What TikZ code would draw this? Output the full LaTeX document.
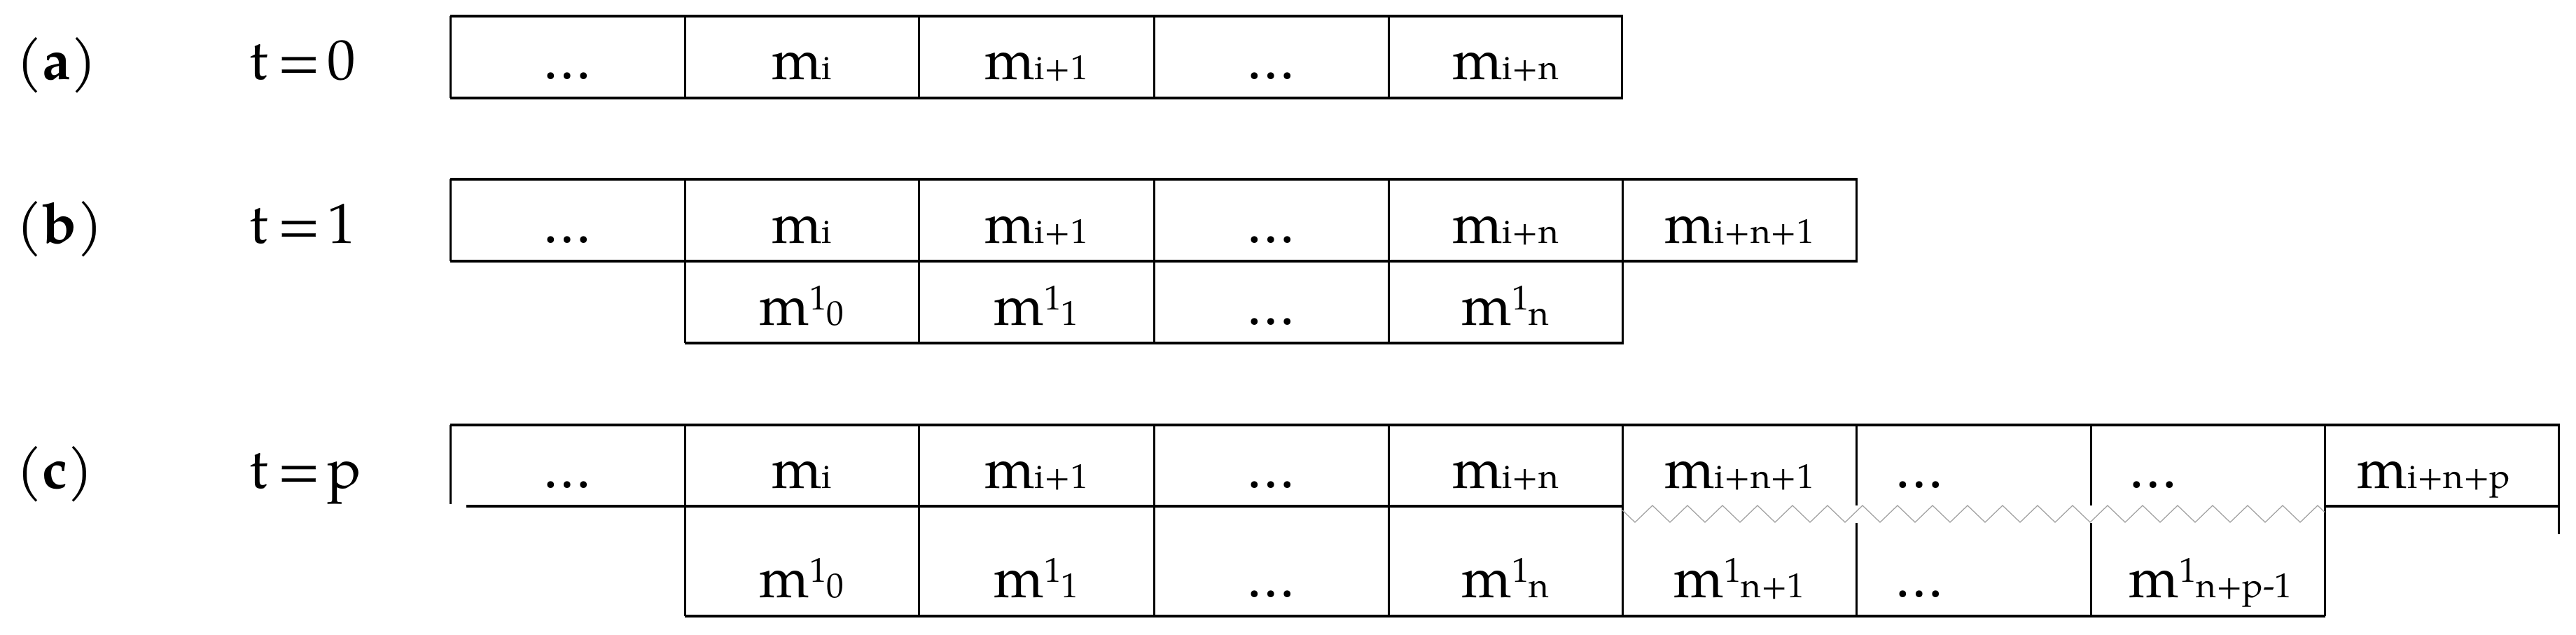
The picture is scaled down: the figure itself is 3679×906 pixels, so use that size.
\documentclass[tikz,border=0pt]{standalone}
\usepackage{fontspec}
\setmainfont{TeX Gyre Pagella}
\newcommand{\lo}[1]{{\fontsize{14pt}{14pt}\selectfont #1}}
\newcommand{\hi}[1]{\raisebox{0.26em}{\fontsize{14pt}{14pt}\selectfont #1}}
\newcommand{\teq}[1]{t\hspace{0.17em}=\hspace{0.12em}#1}
\tikzset{
  hl/.style={line width=1.3pt},
  vl/.style={line width=0.85pt},
  zig/.style={line width=0.35pt, draw={rgb,255:red,160;green,160;blue,160}},
  txt/.style={anchor=base, inner sep=0pt, font=\fontsize{23pt}{23pt}\selectfont},
  ltxt/.style={txt, anchor=base west}
}
\begin{document}
\begin{tikzpicture}[x=0.01cm,y=-0.01cm]
\useasboundingbox (0,0) rectangle (3679,906);
% ---------- row (a)
\node[ltxt] (la) at (23,113) {(\textbf{a})};
\node[ltxt] (ta) at (356,113) {\teq{0}};
\draw[hl] (643,23) -- (2318,23);
\draw[hl] (643,140) -- (2318,140);
\foreach \x in {643,978,1312,1648,1983,2316} \draw[vl] (\x,23) -- (\x,140);
\node[txt] (a1) at (810,113) {…};
\node[txt] (a2) at (1145,113) {m\lo{i}};
\node[txt] (a3) at (1480,113) {m\lo{i+1}};
\node[txt] (a4) at (1815,113) {…};
\node[txt] (a5) at (2150,113) {m\lo{i+n}};
% ---------- row (b)
\node[ltxt] (lb) at (23,347) {(\textbf{b})};
\node[ltxt] (tb) at (356,347) {\teq{1}};
\draw[hl] (643,256) -- (2653,256);
\draw[hl] (643,373) -- (2653,373);
\draw[hl] (978,490) -- (2319,490);
\draw[vl] (643,256) -- (643,373);
\foreach \x in {978,1312,1648,1983,2317} \draw[vl] (\x,256) -- (\x,490);
\draw[vl] (2651,256) -- (2651,373);
\node[txt] (b1) at (810,347) {…};
\node[txt] (b2) at (1145,347) {m\lo{i}};
\node[txt] (b3) at (1480,347) {m\lo{i+1}};
\node[txt] (b4) at (1815,347) {…};
\node[txt] (b5) at (2150,347) {m\lo{i+n}};
\node[txt] (b6) at (2484,347) {m\lo{i+n+1}};
\node[txt] (b7) at (1145,464) {m\hi{1}\lo{0}};
\node[txt] (b8) at (1480,464) {m\hi{1}\lo{1}};
\node[txt] (b9) at (1815,464) {…};
\node[txt] (b10) at (2150,464) {m\hi{1}\lo{n}};
% ---------- row (c)
\node[ltxt] (lc) at (23,697) {(\textbf{c})};
\node[ltxt] (tc) at (356,697) {\teq{p}};
\draw[hl] (643,607) -- (3656,607);
\draw[hl] (666,723) -- (2317,723);
\draw[hl] (3320,723) -- (3654,723);
\draw[hl] (978,880) -- (3321,880);
\draw[vl] (643,607) -- (643,720);
\foreach \x in {978,1312,1648,1983,2317,3320} \draw[vl] (\x,607) -- (\x,880);
\foreach \x in {2651,2986} {
  \draw[vl] (\x,607) -- (\x,722);
  \draw[vl] (\x,747) -- (\x,880);
}
\draw[vl] (3654,607) -- (3654,763);
\draw[zig] (2317,728.7) \foreach \k in {1,3,...,39} { -- ({2310+25*\k},746) -- ({2335+25*\k},722) } -- (3320,731.6);
\node[txt] (c1) at (810,697) {…};
\node[txt] (c2) at (1145,697) {m\lo{i}};
\node[txt] (c3) at (1480,697) {m\lo{i+1}};
\node[txt] (c4) at (1815,697) {…};
\node[txt] (c5) at (2150,697) {m\lo{i+n}};
\node[txt] (c6) at (2484,697) {m\lo{i+n+1}};
\node[ltxt] (c7) at (2706,697) {…};
\node[ltxt] (c8) at (3040,697) {…};
\node[ltxt] (c9) at (3366,697) {m\lo{i+n+p}};
\node[txt] (c10) at (1145,853) {m\hi{1}\lo{0}};
\node[txt] (c11) at (1480,853) {m\hi{1}\lo{1}};
\node[txt] (c12) at (1815,853) {…};
\node[txt] (c13) at (2150,853) {m\hi{1}\lo{n}};
\node[txt] (c14) at (2484,853) {m\hi{1}\lo{n+1}};
\node[ltxt] (c15) at (2706,853) {…};
\node[ltxt] (c16) at (3040,853) {m\hi{1}\lo{n+p-1}};
\end{tikzpicture}
\end{document}
